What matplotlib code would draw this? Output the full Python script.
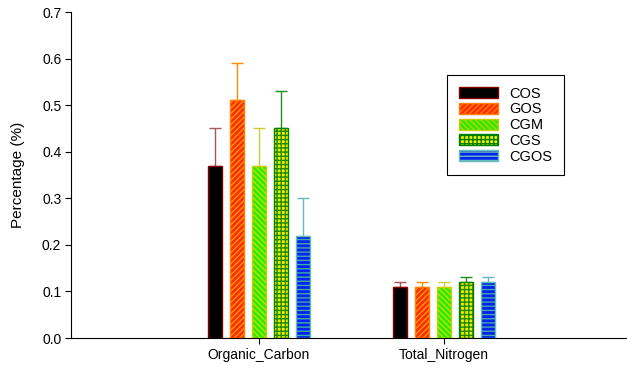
import numpy as np
import matplotlib.pyplot as plt

plt.rcParams['font.family'] = ['Liberation Sans', 'DejaVu Sans']
plt.rcParams['hatch.linewidth'] = 1.0

categories = ['Organic_Carbon', 'Total_Nitrogen']
series = ['COS', 'GOS', 'CGM', 'CGS', 'CGOS']
values = {
    'COS':  [0.37, 0.11],
    'GOS':  [0.51, 0.11],
    'CGM':  [0.37, 0.11],
    'CGS':  [0.45, 0.12],
    'CGOS': [0.22, 0.12],
}
errors = {
    'COS':  [0.08, 0.01],
    'GOS':  [0.08, 0.01],
    'CGM':  [0.08, 0.01],
    'CGS':  [0.08, 0.01],
    'CGOS': [0.08, 0.01],
}

# face, hatch colour, hatch, edge, error bar colour
styles = {
    'COS':  ('#000000', '#000000', '',      '#8b0000', '#a05a5a'),
    'GOS':  ('#ff2a00', '#ff9a00', '//////', '#ff7f00', '#ff8c00'),
    'CGM':  ('#22ee00', '#ccdd00', '\\\\\\\\\\\\', '#cccc00', '#cccc33'),
    'CGS':  ('#eeee00', '#228b00', '++++',  '#008000', '#228b22'),
    'CGOS': ('#0022ee', '#44aaaa', '----',  '#66bbbb', '#66b8b8'),
}

fig = plt.figure(figsize=(6.27, 3.68), dpi=100)
ax = fig.add_axes([71 / 627, 1 - 338 / 368, 556 / 627, 326 / 368])

x = np.arange(len(categories))
width = 0.075
step = 0.119

for i, name in enumerate(series):
    fc, hc, hatch, ec, erc = styles[name]
    pos = x + (i - 2) * step
    plt.rcParams['hatch.color'] = hc
    ax.bar(pos, values[name], width, color=fc, hatch=hatch,
           edgecolor=hc, linewidth=0, label=name, zorder=2)
    ax.bar(pos, values[name], width, fill=False, edgecolor=ec,
           linewidth=1.0, zorder=3)
    ax.errorbar(pos, values[name], yerr=[np.zeros(len(x)), errors[name]],
                fmt='none', ecolor=erc, elinewidth=1.0, capsize=4,
                capthick=1.0, zorder=1)

ax.set_xlim(-1.016, 1.99)
ax.set_ylim(0, 0.7)
ax.set_yticks(np.arange(0, 0.71, 0.1))
ax.set_yticklabels(['%.1f' % v for v in np.arange(0, 0.71, 0.1)])
ax.set_xticks(x)
ax.set_xticklabels(categories)
ax.tick_params(axis='both', direction='out', length=4, width=0.8,
               labelsize=10, pad=3)
ax.spines['top'].set_visible(False)
ax.spines['right'].set_visible(False)
ax.set_ylabel('Percentage (%)', fontsize=11, labelpad=12)

handles, labels = ax.get_legend_handles_labels()
leg = ax.legend(handles, labels, loc='upper left',
                bbox_to_anchor=((447 - 71) / 556, (338 - 75) / 326),
                borderaxespad=0, fancybox=False, edgecolor='black',
                fontsize=10.5, handlelength=2.7, handleheight=0.8,
                handletextpad=0.8, labelspacing=0.12, borderpad=0.8,
                framealpha=1)
leg.get_frame().set_linewidth(0.8)
for patch, name in zip(leg.get_patches(), series):
    patch.set_edgecolor(styles[name][3])
    patch.set_linewidth(1.0)

fig.savefig('out.png', dpi=100)
